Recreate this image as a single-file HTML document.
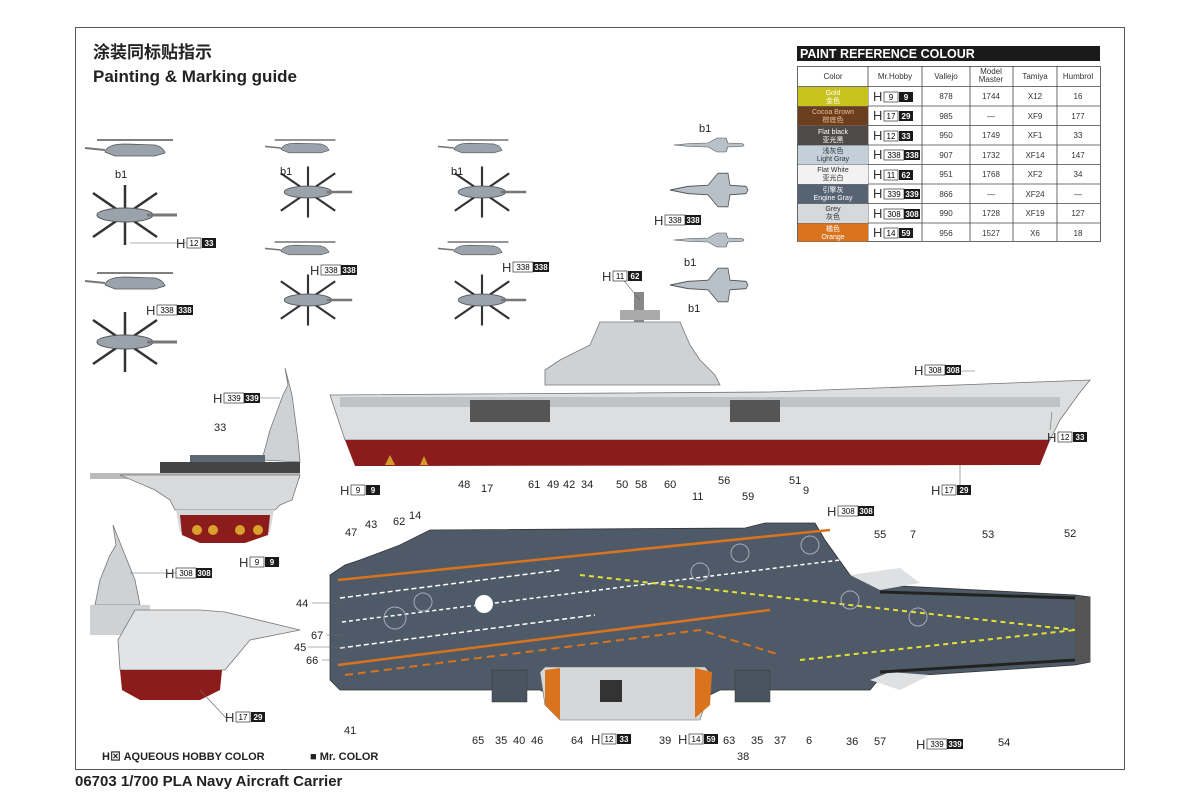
<!DOCTYPE html>
<html><head><meta charset="utf-8"><style>
html,body{margin:0;padding:0;background:#fff}
svg{display:block}
text{font-family:"Liberation Sans","Noto Sans CJK SC",sans-serif}
</style></head><body>
<svg width="1200" height="800" viewBox="0 0 1200 800" xmlns="http://www.w3.org/2000/svg">
<defs>
<g id="heliS"><path d="M-30,2 Q-28,-6 -10,-6 L20,-5 Q28,-3 30,3 L20,6 L-20,6 Z" fill="#9aa3ac" stroke="#555" stroke-width="0.8"/><path d="M-38,-10 L38,-10" stroke="#555" stroke-width="1.5"/><path d="M-30,0 L-50,-2" stroke="#777" stroke-width="2"/></g>
<g id="heliT"><line x1="-32" y1="-22" x2="32" y2="22" stroke="#333" stroke-width="2.5"/><line x1="-32" y1="22" x2="32" y2="-22" stroke="#333" stroke-width="2.5"/><line x1="0" y1="-30" x2="0" y2="30" stroke="#333" stroke-width="2.5"/><ellipse cx="0" cy="0" rx="28" ry="7" fill="#9aa3ac" stroke="#555"/><line x1="22" y1="0" x2="52" y2="0" stroke="#777" stroke-width="3"/></g>
<g id="jet"><path d="M-38,0 L-20,-3 L0,-4 L10,-14 L20,-14 L22,-4 L38,-3 L40,0 L38,3 L22,4 L20,14 L10,14 L0,4 L-20,3 Z" fill="#b8c0c8" stroke="#555" stroke-width="0.8"/></g>
</defs>
<rect x="75.5" y="27.5" width="1049" height="742" fill="none" stroke="#555" stroke-width="1"/>
<text x="93" y="58" font-size="17" font-weight="bold" fill="#222" font-family="Liberation Sans,Noto Sans CJK SC,sans-serif">涂装同标贴指示</text>
<text x="93" y="82" font-size="17" font-weight="bold" fill="#222">Painting &amp; Marking guide</text>

<!-- paint table -->
<rect x="797" y="46" width="303" height="15" fill="#1a1a1a"/>
<text x="800" y="58" font-size="12.5" font-weight="bold" fill="#fff">PAINT  REFERENCE COLOUR</text>
<g stroke="#444" stroke-width="0.8" fill="none">
<rect x="797.5" y="66.5" width="303" height="175"/>
<line x1="868" y1="66" x2="868" y2="241"/><line x1="922" y1="66" x2="922" y2="241"/><line x1="970" y1="66" x2="970" y2="241"/><line x1="1013" y1="66" x2="1013" y2="241"/><line x1="1057" y1="66" x2="1057" y2="241"/>
<line x1="797" y1="86.5" x2="1100" y2="86.5"/><line x1="797" y1="106" x2="1100" y2="106"/><line x1="797" y1="125.5" x2="1100" y2="125.5"/><line x1="797" y1="145" x2="1100" y2="145"/><line x1="797" y1="164.5" x2="1100" y2="164.5"/><line x1="797" y1="184" x2="1100" y2="184"/><line x1="797" y1="203.5" x2="1100" y2="203.5"/><line x1="797" y1="223" x2="1100" y2="223"/>
</g>
<rect x="798" y="87" width="70" height="19" fill="#c9c11c"/>
<rect x="798" y="106.5" width="70" height="19" fill="#6b3e1e"/>
<rect x="798" y="126" width="70" height="19" fill="#4d4a48"/>
<rect x="798" y="145.5" width="70" height="19" fill="#c3d0da"/>
<rect x="798" y="165" width="70" height="19" fill="#f2f2f2"/>
<rect x="798" y="184.5" width="70" height="19" fill="#556373"/>
<rect x="798" y="204" width="70" height="19" fill="#d6d9dc"/>
<rect x="798" y="223.5" width="70" height="18" fill="#d9731d"/>
<g font-size="7" text-anchor="middle" fill="#fff">
<text x="833" y="95">Gold</text><text x="833" y="103">金色</text>
<text x="833" y="114" fill="#f0c090">Cocoa Brown</text><text x="833" y="122" fill="#f0c090">棕底色</text>
<text x="833" y="134">Flat black</text><text x="833" y="142">亚光黑</text>
<text x="833" y="153" fill="#333">浅灰色</text><text x="833" y="161" fill="#333">Light Gray</text>
<text x="833" y="172" fill="#333">Flat White</text><text x="833" y="180" fill="#333">亚光白</text>
<text x="833" y="192">引擎灰</text><text x="833" y="200">Engine Gray</text>
<text x="833" y="211" fill="#333">Grey</text><text x="833" y="219" fill="#333">灰色</text>
<text x="833" y="231">橘色</text><text x="833" y="239">Orange</text>
</g>
<g font-size="8" text-anchor="middle" fill="#333">
<text x="833" y="79">Color</text><text x="895" y="79">Mr.Hobby</text><text x="946" y="79">Vallejo</text><text x="991" y="74">Model</text><text x="991" y="82">Master</text><text x="1035" y="79">Tamiya</text><text x="1078" y="79">Humbrol</text>
<text x="946" y="99">878</text><text x="991" y="99">1744</text><text x="1035" y="99">X12</text><text x="1078" y="99">16</text>
<text x="946" y="119">985</text><text x="991" y="119">—</text><text x="1035" y="119">XF9</text><text x="1078" y="119">177</text>
<text x="946" y="138">950</text><text x="991" y="138">1749</text><text x="1035" y="138">XF1</text><text x="1078" y="138">33</text>
<text x="946" y="158">907</text><text x="991" y="158">1732</text><text x="1035" y="158">XF14</text><text x="1078" y="158">147</text>
<text x="946" y="177">951</text><text x="991" y="177">1768</text><text x="1035" y="177">XF2</text><text x="1078" y="177">34</text>
<text x="946" y="197">866</text><text x="991" y="197">—</text><text x="1035" y="197">XF24</text><text x="1078" y="197">—</text>
<text x="946" y="216">990</text><text x="991" y="216">1728</text><text x="1035" y="216">XF19</text><text x="1078" y="216">127</text>
<text x="946" y="236">956</text><text x="991" y="236">1527</text><text x="1035" y="236">X6</text><text x="1078" y="236">18</text>
</g>
<g font-size="9">
<g transform="translate(873,91)"><text y="10" font-size="13" fill="#333">H</text><rect x="11" y="1" width="14" height="10" fill="#fff" stroke="#333" stroke-width="0.7"/><text x="18" y="9" text-anchor="middle" font-size="8">9</text><rect x="26" y="1" width="14" height="10" fill="#1a1a1a"/><text x="33" y="9" text-anchor="middle" font-size="8" fill="#fff" font-weight="bold">9</text></g>
<g transform="translate(873,110)"><text y="10" font-size="13" fill="#333">H</text><rect x="11" y="1" width="14" height="10" fill="#fff" stroke="#333" stroke-width="0.7"/><text x="18" y="9" text-anchor="middle" font-size="8">17</text><rect x="26" y="1" width="14" height="10" fill="#1a1a1a"/><text x="33" y="9" text-anchor="middle" font-size="8" fill="#fff" font-weight="bold">29</text></g>
<g transform="translate(873,130)"><text y="10" font-size="13" fill="#333">H</text><rect x="11" y="1" width="14" height="10" fill="#fff" stroke="#333" stroke-width="0.7"/><text x="18" y="9" text-anchor="middle" font-size="8">12</text><rect x="26" y="1" width="14" height="10" fill="#1a1a1a"/><text x="33" y="9" text-anchor="middle" font-size="8" fill="#fff" font-weight="bold">33</text></g>
<g transform="translate(873,149)"><text y="10" font-size="13" fill="#333">H</text><rect x="11" y="1" width="20" height="10" fill="#fff" stroke="#333" stroke-width="0.7"/><text x="21" y="9" text-anchor="middle" font-size="8">338</text><rect x="31" y="1" width="16" height="10" fill="#1a1a1a"/><text x="39" y="9" text-anchor="middle" font-size="8" fill="#fff" font-weight="bold">338</text></g>
<g transform="translate(873,169)"><text y="10" font-size="13" fill="#333">H</text><rect x="11" y="1" width="14" height="10" fill="#fff" stroke="#333" stroke-width="0.7"/><text x="18" y="9" text-anchor="middle" font-size="8">11</text><rect x="26" y="1" width="14" height="10" fill="#1a1a1a"/><text x="33" y="9" text-anchor="middle" font-size="8" fill="#fff" font-weight="bold">62</text></g>
<g transform="translate(873,188)"><text y="10" font-size="13" fill="#333">H</text><rect x="11" y="1" width="20" height="10" fill="#fff" stroke="#333" stroke-width="0.7"/><text x="21" y="9" text-anchor="middle" font-size="8">339</text><rect x="31" y="1" width="16" height="10" fill="#1a1a1a"/><text x="39" y="9" text-anchor="middle" font-size="8" fill="#fff" font-weight="bold">339</text></g>
<g transform="translate(873,208)"><text y="10" font-size="13" fill="#333">H</text><rect x="11" y="1" width="20" height="10" fill="#fff" stroke="#333" stroke-width="0.7"/><text x="21" y="9" text-anchor="middle" font-size="8">308</text><rect x="31" y="1" width="16" height="10" fill="#1a1a1a"/><text x="39" y="9" text-anchor="middle" font-size="8" fill="#fff" font-weight="bold">308</text></g>
<g transform="translate(873,227)"><text y="10" font-size="13" fill="#333">H</text><rect x="11" y="1" width="14" height="10" fill="#fff" stroke="#333" stroke-width="0.7"/><text x="18" y="9" text-anchor="middle" font-size="8">14</text><rect x="26" y="1" width="14" height="10" fill="#1a1a1a"/><text x="33" y="9" text-anchor="middle" font-size="8" fill="#fff" font-weight="bold">59</text></g>
</g>

<!-- aircraft -->
<use href="#heliS" transform="translate(135,150)"/>
<use href="#heliT" transform="translate(125,215)"/>
<use href="#heliS" transform="translate(135,283)"/>
<use href="#heliT" transform="translate(125,342)"/>
<use href="#heliS" transform="translate(305,148) scale(0.8)"/>
<use href="#heliT" transform="translate(308,192) scale(0.85)"/>
<use href="#heliS" transform="translate(305,250) scale(0.8)"/>
<use href="#heliT" transform="translate(308,300) scale(0.85)"/>
<use href="#heliS" transform="translate(478,148) scale(0.8)"/>
<use href="#heliT" transform="translate(482,192) scale(0.85)"/>
<use href="#heliS" transform="translate(478,250) scale(0.8)"/>
<use href="#heliT" transform="translate(482,300) scale(0.85)"/>
<use href="#jet" transform="translate(708,145) scale(0.9,0.5)"/>
<use href="#jet" transform="translate(708,190) scale(1,1.2)"/>
<use href="#jet" transform="translate(708,240) scale(0.9,0.5)"/>
<use href="#jet" transform="translate(708,285) scale(1,1.2)"/>
<g font-size="11" fill="#222">
<text x="115" y="178">b1</text><text x="280" y="175">b1</text><text x="451" y="175">b1</text><text x="699" y="132">b1</text><text x="684" y="266">b1</text><text x="688" y="312">b1</text>
</g>

<!-- side ship -->
<g>
<rect x="634" y="292" width="10" height="30" fill="#888"/>
<rect x="620" y="310" width="40" height="10" fill="#aaa"/>
<path d="M600,322 L680,322 L690,345 L700,360 L715,375 L720,385 L545,385 L545,370 L560,360 L590,345 Z" fill="#cfd2d5" stroke="#777" stroke-width="0.8"/>
<path d="M330,395 L770,392 L1090,380 L1078,395 L1060,420 L1050,440 L345,440 Z" fill="#dcdedf" stroke="#777" stroke-width="0.8"/>
<rect x="340" y="397" width="720" height="10" fill="#bfc3c6"/>
<rect x="470" y="400" width="80" height="22" fill="#555"/><rect x="730" y="400" width="50" height="22" fill="#555"/>
<path d="M345,440 L1050,440 L1040,465 L355,466 Z" fill="#8c1b1b"/>
<path d="M385,465 L390,455 L395,465Z M420,465 L424,456 L428,465Z" fill="#d29b2a"/>
</g>

<!-- front view (bow) -->
<g>
<path d="M285,368 L288,385 L283,395 L270,430 L262,460 L300,462 L298,440 L292,395Z" fill="#cfd2d5" stroke="#777" stroke-width="0.8"/>
<rect x="190" y="455" width="75" height="25" fill="#5c6773"/>
<rect x="160" y="462" width="140" height="12" fill="#444"/>
<rect x="90" y="473" width="210" height="6" fill="#bbb"/>
<path d="M120,475 L300,475 L292,500 L280,505 L275,510 L175,510 L170,500 L155,490 Z" fill="#d8dadb" stroke="#777" stroke-width="0.8"/>
<path d="M176,510 L274,510 L270,532 L245,542 L200,542 L180,532Z" fill="#d5d7d8"/>
<path d="M180,515 L270,515 L268,535 L245,543 L200,543 L182,535Z" fill="#8c1b1b"/>
<circle cx="197" cy="530" r="5" fill="#d9a12c"/><circle cx="213" cy="530" r="5" fill="#d9a12c"/><circle cx="240" cy="530" r="5" fill="#d9a12c"/><circle cx="258" cy="530" r="5" fill="#d9a12c"/>
<text x="214" y="431" font-size="11" fill="#222">33</text>
</g>
<!-- rear view -->
<g>
<path d="M113,525 L116,545 L110,555 L100,580 L95,605 L140,605 L135,580 L125,555Z" fill="#cfd2d5" stroke="#777" stroke-width="0.8"/>
<rect x="90" y="605" width="60" height="30" fill="#cfd2d5"/>
<path d="M135,610 L200,610 L225,612 L300,630 L250,640 L225,670 L120,670 L118,640 Z" fill="#e1e3e4" stroke="#777" stroke-width="0.8"/>
<path d="M120,670 L222,670 L220,690 L200,700 L140,700 L122,690Z" fill="#8c1b1b"/>
</g>

<!-- top deck view -->
<g>
<path d="M330,575 L345,565 L360,560 L400,545 L420,535 L430,530 L745,528 L765,523 L815,523 L825,540 L850,575 L880,585 L1075,595 L1090,597 L1090,662 L1075,665 L880,678 L870,690 L720,690 L700,700 L560,700 L540,690 L340,690 L330,680 Z" fill="#4f5a68" stroke="#333" stroke-width="0.8"/>
<path d="M850,575 L900,568 L920,583 L880,590Z" fill="#dfe0e1"/>
<path d="M870,680 L890,672 L930,675 L900,690Z" fill="#dfe0e1"/>
<path d="M540,672 L545,667 L705,667 L712,675 L705,705 L700,720 L560,720 L545,705 Z" fill="#d5d7d8" stroke="#666" stroke-width="0.6"/>
<path d="M545,670 L560,668 L560,720 L545,705Z" fill="#d9731d"/>
<path d="M695,668 L712,672 L710,705 L695,718Z" fill="#d9731d"/>
<rect x="600" y="680" width="22" height="22" fill="#333"/>
<rect x="492" y="670" width="35" height="32" fill="#4a5460" stroke="#333" stroke-width="0.5"/>
<rect x="735" y="670" width="35" height="32" fill="#4a5460" stroke="#333" stroke-width="0.5"/>
<path d="M338,580 L830,530" stroke="#d9731d" stroke-width="2.5"/>
<path d="M338,665 L770,610" stroke="#d9731d" stroke-width="2.5"/>
<path d="M345,675 L700,630 L780,655" stroke="#d9731d" stroke-width="2" stroke-dasharray="8,5" fill="none"/>
<path d="M342,622 L840,560" stroke="#fff" stroke-width="1.5" stroke-dasharray="4,3"/>
<path d="M340,598 L560,570" stroke="#fff" stroke-width="1.5" stroke-dasharray="5,3"/>
<path d="M340,648 L595,615" stroke="#fff" stroke-width="1.5" stroke-dasharray="5,3"/>
<path d="M580,575 L1075,630 M800,660 L1075,630" stroke="#e6e034" stroke-width="2" stroke-dasharray="5,4" fill="none"/>
<circle cx="484" cy="604" r="9" fill="#fff"/>
<g fill="none" stroke="#aab" stroke-width="1"><circle cx="423" cy="602" r="9"/><circle cx="395" cy="618" r="11"/><circle cx="700" cy="572" r="9"/><circle cx="740" cy="553" r="9"/><circle cx="810" cy="545" r="9"/><circle cx="850" cy="600" r="9"/><circle cx="918" cy="617" r="9"/></g>
<rect x="1075" y="597" width="15" height="65" fill="#555"/>
<path d="M880,592 L1075,598 M880,672 L1075,660" stroke="#222" stroke-width="3"/>
</g>

<!-- callout labels -->
<g font-size="11" fill="#222">
<text x="458" y="488">48</text><text x="481" y="492">17</text><text x="528" y="488">61</text><text x="547" y="488">49</text><text x="563" y="488">42</text><text x="581" y="488">34</text><text x="616" y="488">50</text><text x="635" y="488">58</text><text x="664" y="488">60</text><text x="692" y="500">11</text><text x="718" y="484">56</text><text x="742" y="500">59</text><text x="789" y="484">51</text><text x="803" y="494">9</text>
<text x="345" y="536">47</text><text x="365" y="528">43</text><text x="393" y="525">62</text><text x="409" y="519">14</text><text x="874" y="538">55</text><text x="910" y="538">7</text><text x="982" y="538">53</text><text x="1064" y="537">52</text>
<text x="296" y="607">44</text><text x="311" y="639">67</text><text x="294" y="651">45</text><text x="306" y="664">66</text>
<text x="344" y="734">41</text><text x="472" y="744">65</text><text x="495" y="744">35</text><text x="513" y="744">40</text><text x="531" y="744">46</text><text x="571" y="744">64</text><text x="659" y="744">39</text><text x="723" y="744">63</text><text x="751" y="744">35</text><text x="774" y="744">37</text><text x="806" y="744">6</text><text x="846" y="745">36</text><text x="874" y="745">57</text><text x="998" y="746">54</text><text x="737" y="760">38</text>
</g>
<g stroke="#666" stroke-width="0.6" fill="none">
<line x1="312" y1="603" x2="340" y2="603"/><line x1="327" y1="635" x2="345" y2="635"/><line x1="308" y1="647" x2="345" y2="647"/><line x1="322" y1="660" x2="345" y2="660"/>
<line x1="190" y1="243" x2="130" y2="243"/><line x1="230" y1="398" x2="280" y2="398"/><line x1="182" y1="573" x2="130" y2="573"/><line x1="226" y1="718" x2="200" y2="690"/>
<line x1="620" y1="276" x2="640" y2="300"/><line x1="930" y1="371" x2="975" y2="371"/><line x1="1050" y1="430" x2="1052" y2="412"/><line x1="960" y1="486" x2="960" y2="465"/>
</g>

<!-- H labels -->
<g font-size="8">
<g transform="translate(176,237)"><text y="11" font-size="13" fill="#333">H</text><rect x="11" y="1" width="14" height="10" fill="#fff" stroke="#333" stroke-width="0.7"/><text x="18" y="9" text-anchor="middle">12</text><rect x="26" y="1" width="14" height="10" fill="#1a1a1a"/><text x="33" y="9" text-anchor="middle" fill="#fff" font-weight="bold">33</text></g>
<g transform="translate(146,304)"><text y="11" font-size="13" fill="#333">H</text><rect x="11" y="1" width="20" height="10" fill="#fff" stroke="#333" stroke-width="0.7"/><text x="21" y="9" text-anchor="middle">338</text><rect x="31" y="1" width="16" height="10" fill="#1a1a1a"/><text x="39" y="9" text-anchor="middle" fill="#fff" font-weight="bold">338</text></g>
<g transform="translate(310,264)"><text y="11" font-size="13" fill="#333">H</text><rect x="11" y="1" width="20" height="10" fill="#fff" stroke="#333" stroke-width="0.7"/><text x="21" y="9" text-anchor="middle">338</text><rect x="31" y="1" width="16" height="10" fill="#1a1a1a"/><text x="39" y="9" text-anchor="middle" fill="#fff" font-weight="bold">338</text></g>
<g transform="translate(502,261)"><text y="11" font-size="13" fill="#333">H</text><rect x="11" y="1" width="20" height="10" fill="#fff" stroke="#333" stroke-width="0.7"/><text x="21" y="9" text-anchor="middle">338</text><rect x="31" y="1" width="16" height="10" fill="#1a1a1a"/><text x="39" y="9" text-anchor="middle" fill="#fff" font-weight="bold">338</text></g>
<g transform="translate(654,214)"><text y="11" font-size="13" fill="#333">H</text><rect x="11" y="1" width="20" height="10" fill="#fff" stroke="#333" stroke-width="0.7"/><text x="21" y="9" text-anchor="middle">338</text><rect x="31" y="1" width="16" height="10" fill="#1a1a1a"/><text x="39" y="9" text-anchor="middle" fill="#fff" font-weight="bold">338</text></g>
<g transform="translate(602,270)"><text y="11" font-size="13" fill="#333">H</text><rect x="11" y="1" width="14" height="10" fill="#fff" stroke="#333" stroke-width="0.7"/><text x="18" y="9" text-anchor="middle">11</text><rect x="26" y="1" width="14" height="10" fill="#1a1a1a"/><text x="33" y="9" text-anchor="middle" fill="#fff" font-weight="bold">62</text></g>
<g transform="translate(914,364)"><text y="11" font-size="13" fill="#333">H</text><rect x="11" y="1" width="20" height="10" fill="#fff" stroke="#333" stroke-width="0.7"/><text x="21" y="9" text-anchor="middle">308</text><rect x="31" y="1" width="16" height="10" fill="#1a1a1a"/><text x="39" y="9" text-anchor="middle" fill="#fff" font-weight="bold">308</text></g>
<g transform="translate(1047,431)"><text y="11" font-size="13" fill="#333">H</text><rect x="11" y="1" width="14" height="10" fill="#fff" stroke="#333" stroke-width="0.7"/><text x="18" y="9" text-anchor="middle">12</text><rect x="26" y="1" width="14" height="10" fill="#1a1a1a"/><text x="33" y="9" text-anchor="middle" fill="#fff" font-weight="bold">33</text></g>
<g transform="translate(931,484)"><text y="11" font-size="13" fill="#333">H</text><rect x="11" y="1" width="14" height="10" fill="#fff" stroke="#333" stroke-width="0.7"/><text x="18" y="9" text-anchor="middle">17</text><rect x="26" y="1" width="14" height="10" fill="#1a1a1a"/><text x="33" y="9" text-anchor="middle" fill="#fff" font-weight="bold">29</text></g>
<g transform="translate(340,484)"><text y="11" font-size="13" fill="#333">H</text><rect x="11" y="1" width="14" height="10" fill="#fff" stroke="#333" stroke-width="0.7"/><text x="18" y="9" text-anchor="middle">9</text><rect x="26" y="1" width="14" height="10" fill="#1a1a1a"/><text x="33" y="9" text-anchor="middle" fill="#fff" font-weight="bold">9</text></g>
<g transform="translate(213,392)"><text y="11" font-size="13" fill="#333">H</text><rect x="11" y="1" width="20" height="10" fill="#fff" stroke="#333" stroke-width="0.7"/><text x="21" y="9" text-anchor="middle">339</text><rect x="31" y="1" width="16" height="10" fill="#1a1a1a"/><text x="39" y="9" text-anchor="middle" fill="#fff" font-weight="bold">339</text></g>
<g transform="translate(239,556)"><text y="11" font-size="13" fill="#333">H</text><rect x="11" y="1" width="14" height="10" fill="#fff" stroke="#333" stroke-width="0.7"/><text x="18" y="9" text-anchor="middle">9</text><rect x="26" y="1" width="14" height="10" fill="#1a1a1a"/><text x="33" y="9" text-anchor="middle" fill="#fff" font-weight="bold">9</text></g>
<g transform="translate(165,567)"><text y="11" font-size="13" fill="#333">H</text><rect x="11" y="1" width="20" height="10" fill="#fff" stroke="#333" stroke-width="0.7"/><text x="21" y="9" text-anchor="middle">308</text><rect x="31" y="1" width="16" height="10" fill="#1a1a1a"/><text x="39" y="9" text-anchor="middle" fill="#fff" font-weight="bold">308</text></g>
<g transform="translate(225,711)"><text y="11" font-size="13" fill="#333">H</text><rect x="11" y="1" width="14" height="10" fill="#fff" stroke="#333" stroke-width="0.7"/><text x="18" y="9" text-anchor="middle">17</text><rect x="26" y="1" width="14" height="10" fill="#1a1a1a"/><text x="33" y="9" text-anchor="middle" fill="#fff" font-weight="bold">29</text></g>
<g transform="translate(827,505)"><text y="11" font-size="13" fill="#333">H</text><rect x="11" y="1" width="20" height="10" fill="#fff" stroke="#333" stroke-width="0.7"/><text x="21" y="9" text-anchor="middle">308</text><rect x="31" y="1" width="16" height="10" fill="#1a1a1a"/><text x="39" y="9" text-anchor="middle" fill="#fff" font-weight="bold">308</text></g>
<g transform="translate(591,733)"><text y="11" font-size="13" fill="#333">H</text><rect x="11" y="1" width="14" height="10" fill="#fff" stroke="#333" stroke-width="0.7"/><text x="18" y="9" text-anchor="middle">12</text><rect x="26" y="1" width="14" height="10" fill="#1a1a1a"/><text x="33" y="9" text-anchor="middle" fill="#fff" font-weight="bold">33</text></g>
<g transform="translate(678,733)"><text y="11" font-size="13" fill="#333">H</text><rect x="11" y="1" width="14" height="10" fill="#fff" stroke="#333" stroke-width="0.7"/><text x="18" y="9" text-anchor="middle">14</text><rect x="26" y="1" width="14" height="10" fill="#1a1a1a"/><text x="33" y="9" text-anchor="middle" fill="#fff" font-weight="bold">59</text></g>
<g transform="translate(916,738)"><text y="11" font-size="13" fill="#333">H</text><rect x="11" y="1" width="20" height="10" fill="#fff" stroke="#333" stroke-width="0.7"/><text x="21" y="9" text-anchor="middle">339</text><rect x="31" y="1" width="16" height="10" fill="#1a1a1a"/><text x="39" y="9" text-anchor="middle" fill="#fff" font-weight="bold">339</text></g>
</g>

<text x="102" y="760" font-size="11" font-weight="bold" fill="#222">H⊠ AQUEOUS HOBBY COLOR</text>
<text x="310" y="760" font-size="11" font-weight="bold" fill="#222">■ Mr. COLOR</text>
<text x="75" y="786" font-size="15" font-weight="bold" fill="#222">06703 1/700  PLA Navy Aircraft Carrier</text>
</svg>
</body></html>
